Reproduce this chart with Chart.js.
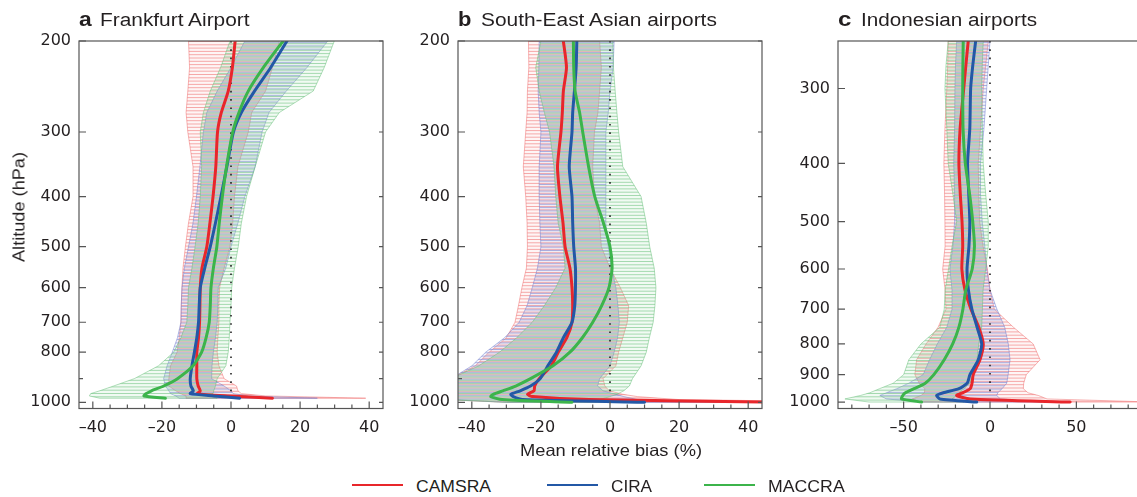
<!DOCTYPE html>
<html><head><meta charset="utf-8">
<script src="https://cdn.jsdelivr.net/npm/chart.js@4.4.1/dist/chart.umd.min.js"></script>
<style>
html,body{margin:0;padding:0;background:#fff;}
body{width:1137px;height:497px;overflow:hidden;position:relative;}
canvas{position:absolute;top:0;}
</style></head><body>
<canvas id="ca" width="400" height="445" style="left:0px"></canvas>
<canvas id="cb" width="400" height="445" style="left:379px"></canvas>
<canvas id="cc" width="400" height="445" style="left:759px"></canvas>
<script>
// ---------------- DATA ----------------
const seriesNames = ['CAMSRA', 'CIRA', 'MACCRA'];

// Panel a: Frankfurt Airport
const levelsA = [200,225,250,275,300,350,400,450,500,550,600,650,700,750,800,850,900,930,950,962,972,982];
const camsraA = [1.2,0.4,-0.8,-2.8,-3.9,-4.4,-5.2,-6.1,-7.0,-8.4,-8.9,-9.0,-9.1,-9.4,-9.9,-9.9,-9.9,-9.5,-8.9,-9.7,-1.0,12.0];
const ciraA   = [16.2,11.5,6.8,3.0,0.7,-1.2,-2.9,-4.5,-6.0,-7.6,-8.9,-9.2,-9.4,-9.9,-10.6,-11.3,-11.8,-11.6,-10.9,-11.8,-5.0,2.5];
const maccraA = [15.1,9.4,5.0,2.3,0.5,-1.3,-2.5,-3.4,-4.1,-5.1,-5.8,-6.0,-6.3,-7.2,-8.5,-11.0,-15.5,-19.5,-23.0,-24.5,-25.2,-19.0];
const camsraA_lo = [-12.3,-12,-12.5,-13,-12.5,-11,-11,-12.3,-13.2,-13.9,-14.2,-14.4,-14.5,-15,-15.6,-17.5,-18,-18,-16,-14.7,-13,-13];
const camsraA_hi = [14,12,10,6,5,2,1,0.5,-0.3,-2,-3.3,-3.5,-3.5,-3.8,-4,-3.5,-2,1.6,2,3,10,39];
const ciraA_lo   = [4,0,-4,-7,-8,-9,-10,-11,-12.3,-13.5,-14.2,-14.4,-14.5,-15.5,-17,-18.5,-19.5,-19,-18,-17.5,-16,-15];
const ciraA_hi   = [28,22,16,11,9,7,4,2,0,-1.5,-3.7,-3.8,-4,-4.5,-5.1,-5.5,-5.6,-2,0,0.6,5,25];
const maccraA_lo = [-0.3,-3,-6,-8,-8.9,-8.5,-8.9,-9.5,-10.4,-11.3,-12.3,-12.5,-12.8,-14.5,-16.6,-21,-28,-34,-38,-40.6,-41,-38];
const maccraA_hi = [29.9,27,23.8,14,10,7,4.5,3,2.1,1,0.2,0,-0.3,-0.5,-0.8,-1.5,-4,-4.5,-5,-5.2,-6,-4];

// Panel b: South-East Asian airports
const levelsB = [200,225,250,275,300,350,400,450,500,550,600,650,700,750,800,850,900,930,950,965,975,988,1000];
const camsraB = [-13.5,-12.6,-13.5,-13.8,-14.2,-15.2,-14.5,-13.6,-13,-11.6,-11,-10.8,-11,-12.5,-15,-17,-20.5,-21.8,-22,-23.9,-22.5,-6,50];
const ciraB   = [-9.6,-9.8,-10.3,-10.8,-11,-11.8,-11,-10.8,-10.5,-10,-10,-10.2,-11,-13.5,-15.5,-18,-20.2,-23,-26,-28.7,-28,-25.3,10];
const maccraB = [-10.6,-10.5,-10.1,-8.8,-7.9,-6.2,-4.4,-1.9,0,0.6,-0.3,-2.4,-5,-8,-11.6,-16.5,-23,-27.3,-31,-33.8,-34.5,-31.2,-11];
const camsraB_lo = [-23.6,-23.5,-23.9,-24,-24.4,-25.1,-24.4,-24,-23.9,-24.2,-25.5,-26.5,-27.5,-30,-35,-39,-46,-48,-48,-48,-48,-48,-30];
const camsraB_hi = [-3,-2.5,-3,-3.5,-4.5,-5,-4.5,-3,-2.5,0,3,5.4,5,3.7,2.5,1.7,-2,-1.5,-0.2,3.7,8,20,80];
const ciraB_lo   = [-20.5,-20.6,-20.8,-20.5,-20,-20.5,-20.5,-20.3,-20,-21,-22.5,-24,-26.3,-30.5,-36,-40,-46,-48,-48,-48,-48,-46,-30];
const ciraB_hi   = [1.2,0.9,0,-0.5,-1.2,-1.2,-1.2,-1.2,-0.5,0.5,1.7,2.3,2.7,2.2,1.2,0,-3,-3.6,-2,1.7,4,8,40];
const maccraB_lo = [-20,-21.5,-20.5,-19,-17.5,-16.2,-15.7,-15,-13.5,-13,-15.7,-19,-22.5,-27,-32,-38,-46,-48,-50,-50,-50,-48,-30];
const maccraB_hi = [0.8,1,1.5,2,2.5,3.7,9,10.5,11.5,12.8,13.3,13,12.5,11.4,10.5,9,6.5,5.6,4,2,0,-3,5];

// Panel c: Indonesian airports
const levelsC = [250,275,300,350,400,450,500,550,600,650,700,750,800,850,900,930,950,965,975,988,1000];
const camsraC = [-12.6,-14,-15.2,-17.3,-18,-17.2,-16.2,-15.8,-16.3,-14.5,-11,-6.5,-3.9,-5.8,-9.7,-10.4,-11.5,-16,-19.3,-11.6,46.4];
const ciraC   = [-8.3,-10,-11.2,-11.7,-13,-12.3,-11.7,-12.2,-13.3,-12.5,-10.5,-7.5,-4.8,-6.8,-11.6,-13.2,-18,-27,-30.9,-29,-7.7];
const maccraC = [-15.5,-15.7,-15.8,-15.6,-14.3,-11.8,-10,-9,-10.3,-14,-15.7,-18,-21.6,-26.5,-32.5,-37.5,-44,-49,-50.5,-51.2,-39.6];
const camsraC_lo = [-24.2,-24.5,-25,-26.1,-26.7,-26.3,-26.1,-26,-27.4,-26,-25.5,-30,-37,-42.5,-43.5,-41,-37.7,-38,-40,-45,-40];
const camsraC_hi = [-1,-2.5,-3.9,-5.5,-6.8,-6.5,-6,-4,-1.5,0,2.5,13.5,25,29,21,19.5,19.3,22,28,33,95];
const ciraC_lo   = [-19.3,-20,-20.3,-20.5,-21,-20.5,-20.5,-21.5,-23.2,-22,-22,-25,-30.5,-35,-38.7,-47,-54,-60,-63.8,-60,-40];
const ciraC_hi   = [0,-1,-1.9,-3.5,-5.5,-5.5,-4.5,-3,-1.9,0,4,8.5,10.6,11.6,10.5,9.7,7,4.5,3.9,6,30];
const maccraC_lo = [-24.2,-25.5,-26.1,-25,-24.2,-21.5,-19.3,-22,-24,-26,-26.5,-29,-40,-47,-50,-56,-64,-69.6,-75,-84,-70];
const maccraC_hi = [-3.9,-4.5,-4.8,-4.4,-3.9,-2.5,-1,-1,-2.5,-4,-4.4,-4.8,-6.5,-7.5,-10,-11.6,-15,-18,-19.3,-22,-15];

// Tick values / labels
const yTicksAB = [200,300,400,500,600,700,800,900,1000];
const yLabelsAB = ['200','300','400','500','600','700','800','','1000'];
const yTicksC = [300,400,500,600,700,800,900,1000];
const yLabelsC = ['300','400','500','600','700','800','900','1000'];
const xTicksAB = [-40,-20,0,20,40];
const xMinorAB = [-35,-30,-25,-15,-10,-5,5,10,15,25,30,35];
const xTicksC = [-50,0,50];
const xMinorC = [-80,-70,-60,-40,-30,-20,-10,10,20,30,40,60,70,80];

// ---------------- STYLE ----------------
const STYLE = [
  {color:'#e8262b', hatch:'rgba(238,105,105,0.55)', fill:'rgba(245,170,170,0.12)', off:0.0},
  {color:'#2358a6', hatch:'rgba(110,122,205,0.55)', fill:'rgba(170,180,230,0.14)', off:1.1},
  {color:'#3cb44b', hatch:'rgba(100,190,118,0.55)', fill:'rgba(170,225,180,0.16)', off:2.2}
];
const TXT = '#231f20';
const AXIS = '#555';

function fmtX(v){ return v < 0 ? '\u2013' + Math.abs(v) : String(v); }

function makePanel(id, P) {
  const plugin = {
    id: 'panel_' + id,
    beforeDatasetsDraw(chart) {
      const ctx = chart.ctx, xs = chart.scales.x, ys = chart.scales.y, a = chart.chartArea;
      P.bands.forEach((b, k) => {
        const st = STYLE[k];
        const path = new Path2D();
        P.levels.forEach((p, i) => {
          const X = xs.getPixelForValue(b.lo[i]), Y = ys.getPixelForValue(p);
          if (i === 0) path.moveTo(X, Y); else path.lineTo(X, Y);
        });
        for (let i = P.levels.length - 1; i >= 0; i--) {
          path.lineTo(xs.getPixelForValue(b.hi[i]), ys.getPixelForValue(P.levels[i]));
        }
        path.closePath();
        ctx.save();
        ctx.beginPath(); ctx.rect(a.left, a.top, a.right - a.left, a.bottom - a.top); ctx.clip();
        ctx.fillStyle = st.fill; ctx.fill(path);
        ctx.save();
        ctx.clip(path);
        ctx.strokeStyle = st.hatch; ctx.lineWidth = 1;
        ctx.beginPath();
        for (let y = a.top + 0.5 + st.off; y < a.bottom; y += 3.3) { ctx.moveTo(a.left, y); ctx.lineTo(a.right, y); }
        ctx.stroke();
        ctx.restore();
        ctx.strokeStyle = st.hatch; ctx.lineWidth = 0.9; ctx.stroke(path);
        ctx.restore();
      });
    },
    afterDraw(chart) {
      const ctx = chart.ctx, xs = chart.scales.x, ys = chart.scales.y, a = chart.chartArea;
      ctx.save();
      ctx.strokeStyle = AXIS; ctx.lineWidth = 1.2;
      ctx.strokeRect(a.left, a.top, a.right - a.left, a.bottom - a.top);
      ctx.beginPath();
      P.yTicks.forEach((v, i) => {
        const Y = ys.getPixelForValue(v);
        const len = P.yLabels[i] ? 7 : 4;
        ctx.moveTo(a.left, Y); ctx.lineTo(a.left + len, Y);
        ctx.moveTo(a.right, Y); ctx.lineTo(a.right - 4, Y);
      });
      P.xTicks.forEach(v => { const X = xs.getPixelForValue(v); ctx.moveTo(X, a.bottom); ctx.lineTo(X, a.bottom - 7); });
      P.xMinor.forEach(v => { const X = xs.getPixelForValue(v); ctx.moveTo(X, a.bottom); ctx.lineTo(X, a.bottom - 4); });
      ctx.stroke();
      ctx.restore();
    }
  };

  const datasets = [];
  // drawn in reverse: index 0 ends on top
  [2,1,0].forEach(k => {
    datasets.push({
      label: seriesNames[k],
      data: P.levels.map((p, i) => ({x: P.means[k][i], y: p})),
      borderColor: STYLE[k].color, backgroundColor: STYLE[k].color,
      borderWidth: 3, pointRadius: 0, showLine: true, tension: 0.2, fill: false, clip: 0,
      borderCapStyle: 'round', borderJoinStyle: 'round'
    });
  });
  datasets.push({
    label: 'zero',
    data: [{x: 0, y: P.ymin}, {x: 0, y: P.zeroEnd}],
    borderColor: '#222', borderWidth: 1.6, borderDash: [1.6, 6.7], pointRadius: 0, showLine: true, fill: false, clip: 0
  });

  return new Chart(document.getElementById(id), {
    type: 'scatter',
    data: { datasets },
    plugins: [plugin],
    options: {
      responsive: false, animation: false, events: [],
      layout: { padding: { left: 0, right: 17, top: 41, bottom: 0 } },
      plugins: { legend: { display: false }, tooltip: { enabled: false }, title: { display: false } },
      scales: {
        x: {
          type: 'linear', min: P.xmin, max: P.xmax,
          afterBuildTicks: sc => { sc.ticks = P.xTicks.map(v => ({value: v})); },
          afterFit: sc => { sc.height = 36.5; },
          grid: { display: false, drawTicks: false }, border: { display: false },
          ticks: { callback: v => fmtX(v), autoSkip: false, maxRotation: 0, padding: 10,
                   font: { family: 'DejaVu Sans', size: 16 }, color: TXT }
        },
        y: {
          type: 'logarithmic', reverse: true, min: P.ymin, max: P.ymax,
          afterBuildTicks: sc => { sc.ticks = P.yTicks.map(v => ({value: v})); },
          afterFit: sc => { sc.width = 79; },
          grid: { display: false, drawTicks: false }, border: { display: false },
          ticks: { callback: (v, i) => P.yLabels[i], autoSkip: false, padding: 8,
                   font: { family: 'DejaVu Sans', size: 16 }, color: TXT }
        }
      }
    }
  });
}

makePanel('ca', {
  levels: levelsA, means: [camsraA, ciraA, maccraA],
  bands: [{lo: camsraA_lo, hi: camsraA_hi}, {lo: ciraA_lo, hi: ciraA_hi}, {lo: maccraA_lo, hi: maccraA_hi}],
  xmin: -44, xmax: 44, ymin: 200, ymax: 1028, zeroEnd: 980,
  yTicks: yTicksAB, yLabels: yLabelsAB, xTicks: xTicksAB, xMinor: xMinorAB
});
makePanel('cb', {
  levels: levelsB, means: [camsraB, ciraB, maccraB],
  bands: [{lo: camsraB_lo, hi: camsraB_hi}, {lo: ciraB_lo, hi: ciraB_hi}, {lo: maccraB_lo, hi: maccraB_hi}],
  xmin: -44, xmax: 44, ymin: 200, ymax: 1028, zeroEnd: 970,
  yTicks: yTicksAB, yLabels: yLabelsAB, xTicks: xTicksAB, xMinor: xMinorAB
});
makePanel('cc', {
  levels: levelsC, means: [camsraC, ciraC, maccraC],
  bands: [{lo: camsraC_lo, hi: camsraC_hi}, {lo: ciraC_lo, hi: ciraC_hi}, {lo: maccraC_lo, hi: maccraC_hi}],
  xmin: -88, xmax: 88, ymin: 250, ymax: 1025, zeroEnd: 975,
  yTicks: yTicksC, yLabels: yLabelsC, xTicks: xTicksC, xMinor: xMinorC
});

// ---------------- TEXT (HTML) ----------------
const mctx = document.createElement('canvas').getContext('2d');
function placeText(txt, o) {
  const font = (o.bold ? 'bold ' : '') + o.fs + 'px "Liberation Sans", Arial, sans-serif';
  mctx.font = font;
  const w = mctx.measureText(txt).width;
  const s = o.w ? o.w / w : 1;
  const el = document.createElement('div');
  el.textContent = txt;
  el.style.cssText = 'position:absolute;white-space:nowrap;margin:0;padding:0;color:' + TXT +
    ';font:' + font + ';line-height:' + o.fs + 'px;';
  if (o.rot) {
    el.style.left = (o.cx - w / 2) + 'px';
    el.style.top = (o.cy - o.fs / 2) + 'px';
    el.style.transformOrigin = '50% 50%';
    el.style.transform = 'rotate(-90deg) scaleX(' + s + ')';
  } else {
    el.style.left = o.x + 'px';
    el.style.top = (o.base - 0.8465 * o.fs) + 'px';
    el.style.transformOrigin = '0 0';
    el.style.transform = 'scaleX(' + s + ')';
  }
  document.body.appendChild(el);
}
function placeLine(x1, x2, y, color) {
  const d = document.createElement('div');
  d.style.cssText = 'position:absolute;left:' + x1 + 'px;top:' + (y - 1.25) + 'px;width:' + (x2 - x1) +
    'px;height:2.5px;background:' + color + ';';
  document.body.appendChild(d);
}

// panel titles
placeText('a', {x: 79, base: 26, fs: 20, bold: true, w: 12.7});
placeText('Frankfurt Airport', {x: 100, base: 26, fs: 18, w: 150.7});
placeText('b', {x: 458.3, base: 26, fs: 20, bold: true, w: 13.4});
placeText('South-East Asian airports', {x: 480.7, base: 26, fs: 18, w: 237});
placeText('c', {x: 838.3, base: 26, fs: 20, bold: true, w: 13.4});
placeText('Indonesian airports', {x: 860.7, base: 26, fs: 18, w: 176});
// axis titles
placeText('Altitude (hPa)', {rot: true, cx: 19, cy: 207, fs: 16, w: 110});
placeText('Mean relative bias (%)', {x: 520, base: 456, fs: 16.5, w: 182});
// legend
placeLine(351.7, 403.3, 485, STYLE[0].color);
placeText(seriesNames[0], {x: 416, base: 492, fs: 17, w: 75});
placeLine(546.7, 597.7, 485, STYLE[1].color);
placeText(seriesNames[1], {x: 610.7, base: 492, fs: 17, w: 41});
placeLine(704.3, 755, 485, STYLE[2].color);
placeText(seriesNames[2], {x: 768.3, base: 492, fs: 17, w: 76.7});
</script>
</body></html>
